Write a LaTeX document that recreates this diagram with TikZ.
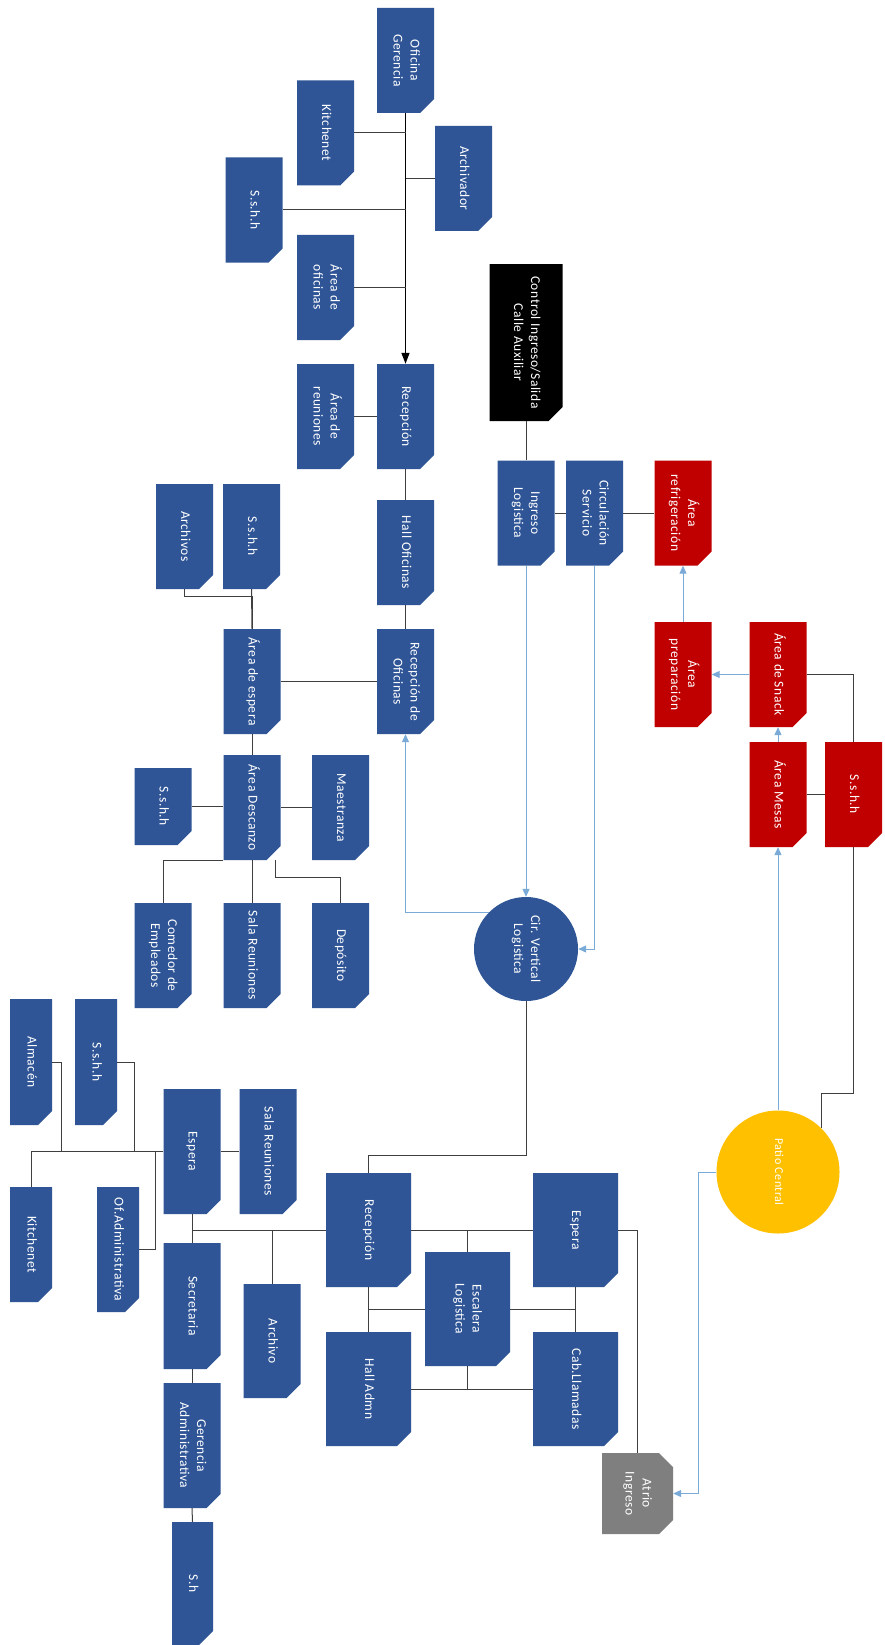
\documentclass[tikz,border=0pt]{standalone}
\usepackage{fontspec}
\setmainfont{Carlito}[LetterSpace=4]
\usetikzlibrary{arrows.meta, shapes.misc, calc}
\definecolor{cblue}{HTML}{2F5597}
\definecolor{cred}{HTML}{C00000}
\definecolor{cyellow}{HTML}{FFC000}
\definecolor{cgrey}{HTML}{7F7F7F}
\definecolor{clink}{HTML}{3F3F3F}
\definecolor{cflow}{HTML}{7AAAD8}
\newcommand{\vtxt}[1]{\rotatebox{-90}{\begin{tabular}{@{}c@{}}#1\end{tabular}}}
\tikzset{
  room/.style={chamfered rectangle, chamfered rectangle corners=south east,
    chamfered rectangle xsep=7pt, chamfered rectangle ysep=7pt, fill=#1, inner sep=0pt,
    minimum width=57pt, minimum height=105pt, text=white, font=\fontsize{13.5}{17}\selectfont},
  room/.default=cblue,
  hub/.style={circle, fill=#1, inner sep=0pt, text=white, font=\fontsize{13.5}{17}\selectfont},
  link/.style={draw=clink, line width=1pt},
  flow/.style={draw=cflow, line width=1pt, -{Triangle[length=8pt, width=7pt]}},
  main/.style={draw=black, line width=1.4pt, -{Triangle[length=11pt, width=8pt]}},
}

\begin{document}
\begin{tikzpicture}[x=1pt, y=-1pt]
  \path[use as bounding box, fill=white] (0,0) rectangle (884,1645);
  % oficinas
  \node[room] (ofger) at (405.5,60.5) {\vtxt{Oficina\\Gerencia}};
  \node[room] (kitch1) at (325.5,133) {\vtxt{Kitchenet}};
  \node[room] (archv) at (463.5,178.5) {\vtxt{Archivador}};
  \node[room] (sshh1) at (254,210) {\vtxt{S.s.h.h}};
  \node[room] (areof) at (325.5,287.5) {\vtxt{Área de\\oficinas}};
  \node[room] (recep1) at (405.5,416.5) {\vtxt{Recepción}};
  \node[room] (arreu) at (325.5,416.5) {\vtxt{Área de\\reuniones}};
  \node[room] (hallof) at (405.5,552.5) {\vtxt{Hall Oficinas}};
  \node[room] (recof) at (405.5,681.5) {\vtxt{Recepción de\\Oficinas}};
  \node[room] (archs) at (184.5,536.5) {\vtxt{Archivos}};
  \node[room] (sshh2) at (251.5,536.5) {\vtxt{S.s.h.h}};
  \node[room] (areesp) at (252,681.5) {\vtxt{Área de espera}};
  \node[room] (aredes) at (252,807.5) {\vtxt{Área Descanzo}};
  \node[room, minimum height=77pt] (sshh3) at (163,806.5) {\vtxt{S.s.h.h}};
  \node[room] (maestr) at (340.5,807.5) {\vtxt{Maestranza}};
  \node[room] (comed) at (163,955.5) {\vtxt{Comedor de\\Empleados}};
  \node[room] (salreu1) at (252,955.5) {\vtxt{Sala Reuniones}};
  \node[room] (depos) at (340.5,955.5) {\vtxt{Depósito}};
  \draw[main] (ofger.south) -- (recep1.north);
  \draw[link] (kitch1.east) -- (kitch1.east -| ofger.south);
  \draw[link] (archv.west) -- (archv.west -| ofger.south);
  \draw[link] (sshh1.east) -- (sshh1.east -| ofger.south);
  \draw[link] (areof.east) -- (areof.east -| ofger.south);
  \draw[link] (arreu.east) -- (recep1.west);
  \draw[link] (recep1.south) -- (hallof.north);
  \draw[link] (hallof.south) -- (recof.north);
  \draw[link] (areesp.east) -- (recof.west);
  \draw[link] (sshh2.south) -- (areesp.north);
  \draw[link] (archs.south) -- ++(0,7) -| (areesp.north);
  \draw[link] (areesp.south) -- (aredes.north);
  \draw[link] (sshh3.east) -- (sshh3.east -| aredes.west);
  \draw[link] (maestr.west) -- (aredes.east);
  \draw[link] (aredes.south west) -| (comed.north);
  \draw[link] (aredes.south) -- (salreu1.north);
  \draw[link] ([xshift=23pt]aredes.south) -- ++(0,17) -| (depos.north);
  % logistica y snack
  \node[room=black, minimum width=73pt, minimum height=157pt] (ctrl) at (526,342.5) {\vtxt{Control Ingreso/Salida\\Calle Auxiliar}};
  \node[room] (ingl) at (526,513) {\vtxt{Ingreso\\Logistica}};
  \node[room] (circs) at (594.5,513) {\vtxt{Circulación\\Servicio}};
  \node[room=cred] (refri) at (683,513) {\vtxt{Área\\refrigeración}};
  \node[room=cred] (prep) at (683,674.5) {\vtxt{Área\\preparación}};
  \node[room=cred] (snack) at (778,674.5) {\vtxt{Área de Snack}};
  \node[room=cred] (mesas) at (778,794.5) {\vtxt{Área Mesas}};
  \node[room=cred] (sshh4) at (853.5,794.5) {\vtxt{S.s.h.h}};
  \node[hub=cblue, minimum size=104pt] (cirv) at (526,949) {\vtxt{Cir. Vertical\\Logistica}};
  \node[hub=cyellow, minimum size=123pt, font=\fontsize{12}{15}\selectfont] (patio) at (778,1172) {\vtxt{Patio Central}};
  \draw[link] (ctrl.south) -- (ingl.north);
  \draw[link] (ingl.east) -- (circs.west);
  \draw[link] (circs.east) -- (refri.west);
  \draw[flow] (ingl.south) -- (cirv.north);
  \draw[flow] (circs.south) |- (cirv.east);
  \draw[flow] (cirv.135) -| (recof.south);
  \draw[flow] (prep.north) -- (refri.south);
  \draw[flow] (snack.west) -- (prep.east);
  \draw[flow] (mesas.north) -- (snack.south);
  \draw[flow] (patio.north) -- (mesas.south);
  \draw[link] (snack.east) -| (sshh4.north);
  \draw[link] (mesas.east) -- (sshh4.west);
  \draw[link] (sshh4.south) -- ++(0,246) -| (patio.45);
  % administracion
  \node[room, minimum width=85pt, minimum height=114pt] (recep2) at (368.5,1230) {\vtxt{Recepción}};
  \node[room, minimum width=85pt, minimum height=114pt] (esp2) at (575.5,1230) {\vtxt{Espera}};
  \node[room, minimum width=85pt, minimum height=114pt] (escal) at (467.5,1309) {\vtxt{Escalera\\Logistica}};
  \node[room, minimum width=85pt, minimum height=114pt] (halladm) at (368.5,1389) {\vtxt{Hall Admn}};
  \node[room, minimum width=85pt, minimum height=114pt] (cabll) at (575.5,1389) {\vtxt{Cab.Llamadas}};
  \node[room=cgrey, minimum width=71pt, minimum height=81pt, chamfered rectangle corners={north east, south east}] (atrio) at (637.5,1493.5) {\vtxt{Atrio\\Ingreso}};
  \node[room, minimum height=125pt] (esp1) at (192,1151.5) {\vtxt{Espera}};
  \node[room, minimum height=125pt] (salreu2) at (268,1151.5) {\vtxt{Sala Reuniones}};
  \node[room, minimum width=42pt, minimum height=126pt] (almac) at (31,1062) {\vtxt{Almacén}};
  \node[room, minimum width=42pt, minimum height=126pt] (sshh5) at (96,1062) {\vtxt{S.s.h.h}};
  \node[room, minimum width=42pt, minimum height=115pt] (kitch2) at (31,1244.5) {\vtxt{Kitchenet}};
  \node[room, minimum width=42pt, minimum height=125pt] (ofadm) at (118,1249.5) {\vtxt{Of.Administrativa}};
  \node[room, minimum height=126pt] (secre) at (192,1306) {\vtxt{Secretaria}};
  \node[room, minimum height=114pt] (archivo) at (272,1341) {\vtxt{Archivo}};
  \node[room, minimum height=125pt] (geradm) at (192,1445.5) {\vtxt{Gerencia\\Administrativa}};
  \node[room, minimum width=41pt, minimum height=123pt] (sh) at (192.5,1583.5) {\vtxt{S.h}};
  \draw[link] (cirv.south) -- ++(0,154) -| (recep2.north);
  \draw[link] (recep2.east) -- (esp2.west);
  \draw[link] (recep2.east -| escal.north) -- (escal.north);
  \draw[link] (recep2.south) -- (halladm.north);
  \draw[link] (esp2.south) -- (cabll.north);
  \draw[link] (escal.west) -- (escal.west -| recep2.south);
  \draw[link] (escal.east) -- (escal.east -| esp2.south);
  \draw[link] (halladm.east) -- (cabll.west);
  \draw[link] (escal.south) -- (escal.south |- halladm.east);
  \draw[link] (esp2.east) -| (atrio.north);
  \draw[flow] (patio.west) -- ++(-17.5,0) |- (atrio.east);
  \draw[link] (recep2.west) -| (esp1.south);
  \draw[link] (esp1.south) -- (secre.north);
  \draw[link] (archivo.north) -- (archivo.north |- recep2.west);
  \draw[link] (esp1.east) -- (salreu2.west);
  \draw[link] (esp1.west) -| (kitch2.north);
  \draw[link] (almac.east) -- ++(9,0) |- (esp1.west);
  \draw[link] (sshh5.east) -- ++(17,0) |- (esp1.west);
  \draw[link] (ofadm.east) -- ++(16,0) |- (esp1.west);
  \draw[link] (secre.south) -- (geradm.north);
  \draw[link] (geradm.south) -- (sh.north);
\end{tikzpicture}
\end{document}
